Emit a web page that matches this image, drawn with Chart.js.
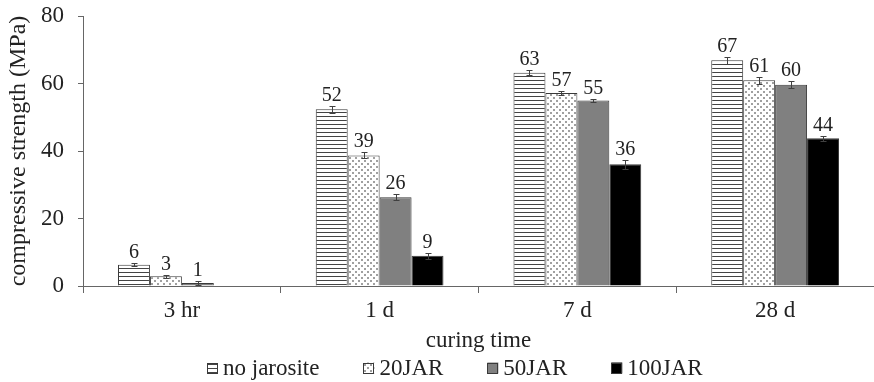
<!DOCTYPE html>
<html>
<head>
<meta charset="utf-8">
<script src="https://cdn.jsdelivr.net/npm/chart.js@4.4.0/dist/chart.umd.min.js"></script>
<style>
  html, body { margin: 0; padding: 0; background: #fff; }
  #wrap { width: 874px; height: 382px; }
</style>
</head>
<body>
<div id="wrap"><canvas id="grafico"></canvas></div>
<script>
// Datos
const categories = ['3 hr', '1 d', '7 d', '28 d'];
const seriesNames = ['no jarosite', '20JAR', '50JAR', '100JAR'];
const noJarosite = [6.3, 52.4, 63.2, 66.9];
const jar20 = [2.9, 38.7, 57.2, 61.0];
const jar50 = [0.9, 26.3, 55.0, 59.6];
const jar100 = [null, 9.0, 36.1, 43.8];
const errNoJarosite = [0.4, 1.0, 0.7, 1.0];
const errJar20 = [0.5, 0.9, 0.5, 1.0];
const errJar50 = [0.5, 0.9, 0.45, 1.0];
const errJar100 = [null, 0.9, 1.3, 0.75];
const yTicks = [0, 20, 40, 60, 80];

const FONT = 'Liberation Serif, Times New Roman, serif';
const TEXT = '#222';
const AXIS = '#666';
const OUTLINE = '#3a3a3a';

// Tramas de relleno
function hatchPattern() {
  const c = document.createElement('canvas');
  c.width = 4; c.height = 4;
  const g = c.getContext('2d');
  g.fillStyle = '#fff';
  g.fillRect(0, 0, 4, 4);
  g.fillStyle = '#444';
  g.fillRect(0, 0, 4, 1);
  return g.createPattern(c, 'repeat');
}
function dotPattern() {
  const c = document.createElement('canvas');
  c.width = 6; c.height = 6;
  const g = c.getContext('2d');
  g.fillStyle = '#fff';
  g.fillRect(0, 0, 6, 6);
  g.fillStyle = '#a0a0a0';
  g.fillRect(1, 1, 2, 2);
  g.fillRect(4, 4, 2, 2);
  return g.createPattern(c, 'repeat');
}

const fills = [hatchPattern(), dotPattern(), '#808080', '#000000'];
const values = [noJarosite, jar20, jar50, jar100];
const errors = [errNoJarosite, errJar20, errJar50, errJar100];

// Barras de error y etiquetas de valor
const errorBarsPlugin = {
  id: 'errorBars',
  afterDatasetsDraw(chart) {
    const ctx = chart.ctx;
    const y = chart.scales.y;
    ctx.save();
    chart.data.datasets.forEach((ds, i) => {
      const meta = chart.getDatasetMeta(i);
      meta.data.forEach((bar, j) => {
        const v = ds.data[j];
        if (v === null || v === undefined) return;
        const e = ds.errors[j] || 0;
        const top = Math.round(y.getPixelForValue(v + e)) + 0.5;
        const bottom = Math.round(y.getPixelForValue(v - e)) + 0.5;
        const x = Math.round(bar.x) + 0.5;
        ctx.strokeStyle = '#404040';
        ctx.lineWidth = 1;
        ctx.beginPath();
        ctx.moveTo(x, top); ctx.lineTo(x, bottom);
        ctx.moveTo(x - 3, top); ctx.lineTo(x + 3, top);
        ctx.moveTo(x - 3, bottom); ctx.lineTo(x + 3, bottom);
        ctx.stroke();
        ctx.fillStyle = TEXT;
        ctx.font = '20px ' + FONT;
        ctx.textAlign = 'center';
        ctx.textBaseline = 'alphabetic';
        ctx.fillText(String(Math.round(v)), bar.x, top - 6);
      });
    });
    ctx.restore();
  }
};

// Leyenda dibujada a mano para colocarla como en el original
const legendPlugin = {
  id: 'customLegend',
  afterDraw(chart) {
    const ctx = chart.ctx;
    ctx.save();
    ctx.font = '23px ' + FONT;
    const box = 11, gapText = 5, gapItem = 44;
    const widths = seriesNames.map(n => box + gapText + ctx.measureText(n).width);
    const total = widths.reduce((a, b) => a + b, 0) + gapItem * (widths.length - 1);
    let x = Math.round(455 - total / 2);
    const yc = 368;
    chart.data.datasets.forEach((ds, i) => {
      ctx.fillStyle = ds.backgroundColor;
      ctx.fillRect(x, yc - box / 2, box, box);
      ctx.strokeStyle = OUTLINE;
      ctx.lineWidth = 1;
      ctx.strokeRect(Math.round(x) + 0.5, Math.round(yc - box / 2) + 0.5, box - 1, box - 1);
      ctx.fillStyle = TEXT;
      ctx.textAlign = 'left';
      ctx.textBaseline = 'middle';
      ctx.fillText(ds.label, x + box + gapText, yc + 1);
      x += widths[i] + gapItem;
    });
    ctx.restore();
  }
};

const datasets = seriesNames.map((name, i) => ({
  label: name,
  data: values[i],
  errors: errors[i],
  backgroundColor: fills[i],
  borderColor: OUTLINE,
  borderWidth: 1,
  categoryPercentage: 0.646,
  barPercentage: 1.0
}));

new Chart(document.getElementById('grafico'), {
  type: 'bar',
  data: { labels: categories, datasets: datasets },
  options: {
    responsive: true,
    maintainAspectRatio: false,
    devicePixelRatio: 1,
    animation: false,
    layout: { padding: { top: 16, right: 0, bottom: 27, left: 0 } },
    plugins: {
      legend: { display: false },
      tooltip: { enabled: false }
    },
    scales: {
      x: {
        grid: { drawOnChartArea: false, drawTicks: true, tickLength: 7, color: AXIS, offset: true },
        border: { color: AXIS },
        ticks: { font: { family: FONT, size: 23 }, color: TEXT, padding: 4 },
        title: { display: true, text: 'curing time', font: { family: FONT, size: 23 }, color: TEXT, padding: { top: 0, bottom: 0 } },
        afterFit: s => { s.height = 69; }
      },
      y: {
        min: yTicks[0],
        max: yTicks[yTicks.length - 1],
        afterBuildTicks: s => { s.ticks = yTicks.map(v => ({ value: v })); },
        grid: { drawOnChartArea: false, drawTicks: true, tickLength: 5, color: AXIS },
        border: { color: AXIS },
        ticks: { font: { family: FONT, size: 23 }, color: TEXT, padding: 14 },
        title: { display: true, text: 'compressive strength (MPa)', font: { family: FONT, size: 24 }, color: TEXT, padding: { top: 4, bottom: 0 } },
        afterFit: s => { s.width = 83; s.paddingTop = 0; s.paddingBottom = 0; }
      }
    }
  },
  plugins: [errorBarsPlugin, legendPlugin]
});
</script>
</body>
</html>
